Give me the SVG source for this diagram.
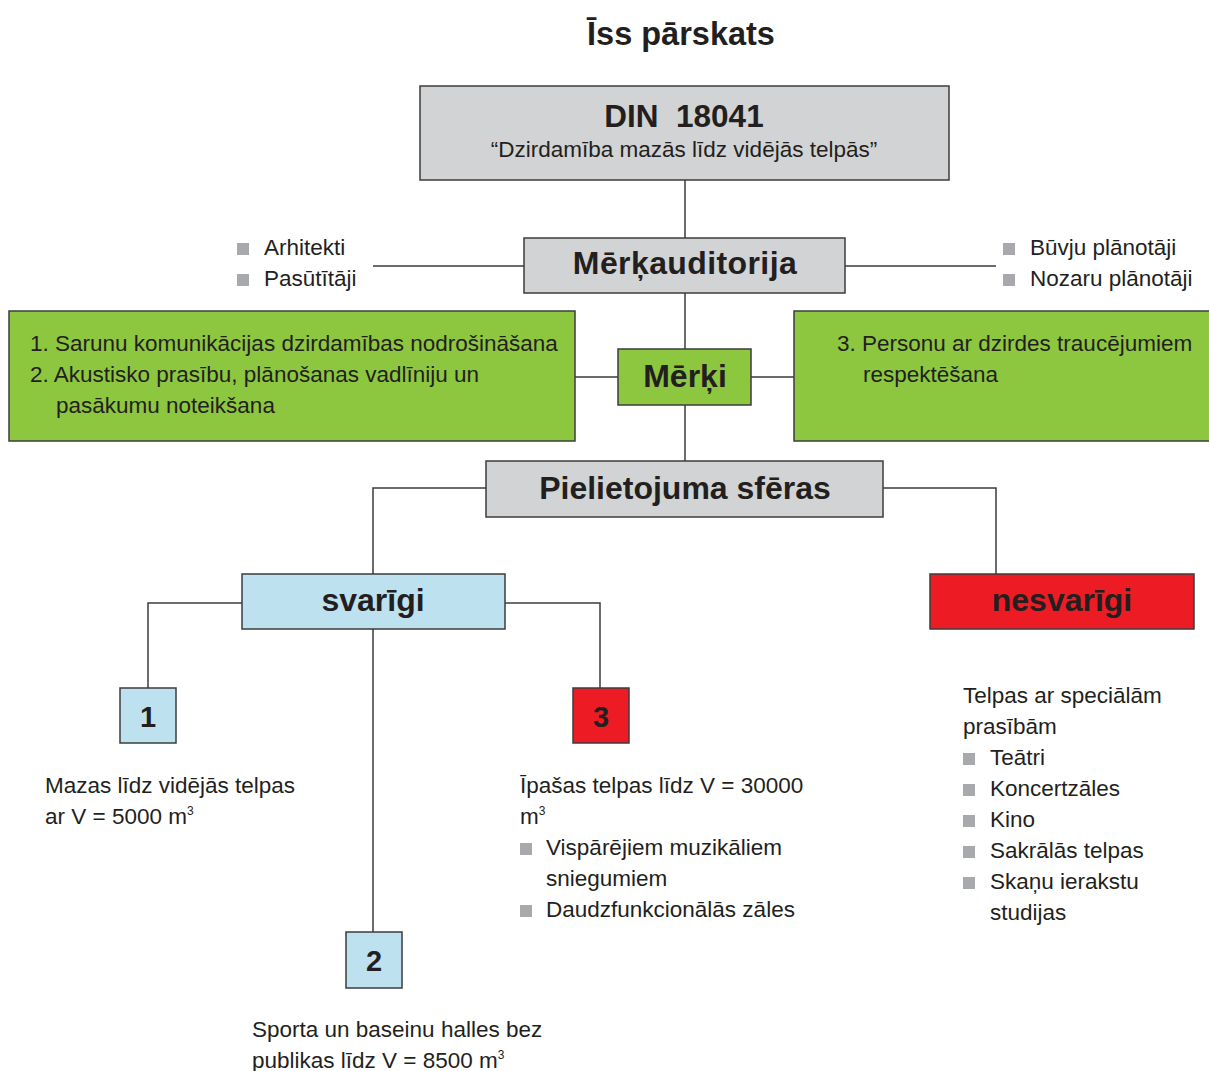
<svg xmlns="http://www.w3.org/2000/svg" width="1209" height="1071" viewBox="0 0 1209 1071">
<defs>
<style>
text{font-family:"Liberation Sans",Arial,sans-serif;fill:#231f20;}
.t{font-size:22.5px;}
.h{font-size:32px;font-weight:bold;text-anchor:middle;}
.n{font-size:29px;font-weight:bold;text-anchor:middle;}
.sup{font-size:12px;}
.box{stroke:#3c3c3c;stroke-width:1.5;}
.grey{fill:#d1d3d4;}
.green{fill:#8dc63f;}
.blue{fill:#bee1f0;}
.red{fill:#ed1c24;}
.b{fill:#a7a9ac;}
.c{fill:none;stroke:#3c3c3c;stroke-width:1.5;}
</style>
</defs>
<rect width="1209" height="1071" fill="#ffffff"/>
<text x="681" y="45" style="font-size:32.5px;font-weight:bold;text-anchor:middle;">Īss pārskats</text>

<g id="connectors">
<path class="c" d="M685 180V238M685 293V349M685 405V461"/>
<path class="c" d="M373 266H524M845 266H996"/>
<path class="c" d="M575 377H618M751 377H794"/>
<path class="c" d="M486 488H373V574M883 488H996V574"/>
<path class="c" d="M242 603H148V688M505 603H600V688M373 629V932"/>
</g>

<g id="din">
<rect class="box grey" x="420" y="86" width="529" height="94"/>
<text class="h" x="684" y="127" style="font-size:31.5px;white-space:pre">DIN  18041</text>
<text class="t" x="684" y="157" style="text-anchor:middle">“Dzirdamība mazās līdz vidējās telpās”</text>
</g>

<g id="merkauditorija">
<rect class="box grey" x="524" y="238" width="321" height="55"/>
<text class="h" x="685" y="274" style="letter-spacing:0.4px">Mērķauditorija</text>
</g>

<g id="auditorija-left">
<rect class="b" x="237" y="243" width="12" height="12"/>
<text class="t" x="264" y="255">Arhitekti</text>
<rect class="b" x="237" y="274" width="12" height="12"/>
<text class="t" x="264" y="286">Pasūtītāji</text>
</g>

<g id="auditorija-right">
<rect class="b" x="1003" y="243" width="12" height="12"/>
<text class="t" x="1030" y="255">Būvju plānotāji</text>
<rect class="b" x="1003" y="274" width="12" height="12"/>
<text class="t" x="1030" y="286">Nozaru plānotāji</text>
</g>

<g id="merki">
<rect class="box green" x="618" y="349" width="133" height="56"/>
<text class="h" x="685" y="387">Mērķi</text>
</g>

<g id="merki-left">
<rect class="box green" x="9" y="311" width="566" height="130"/>
<text class="t" x="30" y="351">1. Sarunu komunikācijas dzirdamības nodrošināšana</text>
<text class="t" x="30" y="382">2. Akustisko prasību, plānošanas vadlīniju un</text>
<text class="t" x="56" y="413">pasākumu noteikšana</text>
</g>

<g id="merki-right">
<rect class="box green" x="794" y="311" width="420" height="130"/>
<text class="t" x="837" y="351">3. Personu ar dzirdes traucējumiem</text>
<text class="t" x="863" y="382">respektēšana</text>
</g>

<g id="pielietojuma">
<rect class="box grey" x="486" y="461" width="397" height="56"/>
<text class="h" x="685" y="499">Pielietojuma sfēras</text>
</g>

<g id="svarigi">
<rect class="box blue" x="242" y="574" width="263" height="55"/>
<text class="h" x="373" y="611">svarīgi</text>
</g>

<g id="nesvarigi">
<rect class="box red" x="930" y="574" width="264" height="55"/>
<text class="h" x="1062" y="611">nesvarīgi</text>
</g>

<g id="n1">
<rect class="box blue" x="120" y="688" width="56" height="55"/>
<text class="n" x="148" y="727">1</text>
<text class="t" x="45" y="793">Mazas līdz vidējās telpas</text>
<text class="t" x="45" y="824">ar V = 5000 m<tspan class="sup" dy="-9">3</tspan></text>
</g>

<g id="n3">
<rect class="box red" x="573" y="688" width="56" height="55"/>
<text class="n" x="601" y="727">3</text>
<text class="t" x="520" y="793">Īpašas telpas līdz V = 30000</text>
<text class="t" x="520" y="824">m<tspan class="sup" dy="-9">3</tspan></text>
<rect class="b" x="520" y="843" width="12" height="12"/>
<text class="t" x="546" y="855">Vispārējiem muzikāliem</text>
<text class="t" x="546" y="886">sniegumiem</text>
<rect class="b" x="520" y="905" width="12" height="12"/>
<text class="t" x="546" y="917">Daudzfunkcionālās zāles</text>
</g>

<g id="n2">
<rect class="box blue" x="346" y="932" width="56" height="56"/>
<text class="n" x="374" y="971">2</text>
<text class="t" x="252" y="1037">Sporta un baseinu halles bez</text>
<text class="t" x="252" y="1068">publikas līdz V = 8500 m<tspan class="sup" dy="-9">3</tspan></text>
</g>

<g id="nesvarigi-list">
<text class="t" x="963" y="703">Telpas ar speciālām</text>
<text class="t" x="963" y="734">prasībām</text>
<rect class="b" x="963" y="753" width="12" height="12"/>
<text class="t" x="990" y="765">Teātri</text>
<rect class="b" x="963" y="784" width="12" height="12"/>
<text class="t" x="990" y="796">Koncertzāles</text>
<rect class="b" x="963" y="815" width="12" height="12"/>
<text class="t" x="990" y="827">Kino</text>
<rect class="b" x="963" y="846" width="12" height="12"/>
<text class="t" x="990" y="858">Sakrālās telpas</text>
<rect class="b" x="963" y="877" width="12" height="12"/>
<text class="t" x="990" y="889">Skaņu ierakstu</text>
<text class="t" x="990" y="920">studijas</text>
</g>
</svg>
